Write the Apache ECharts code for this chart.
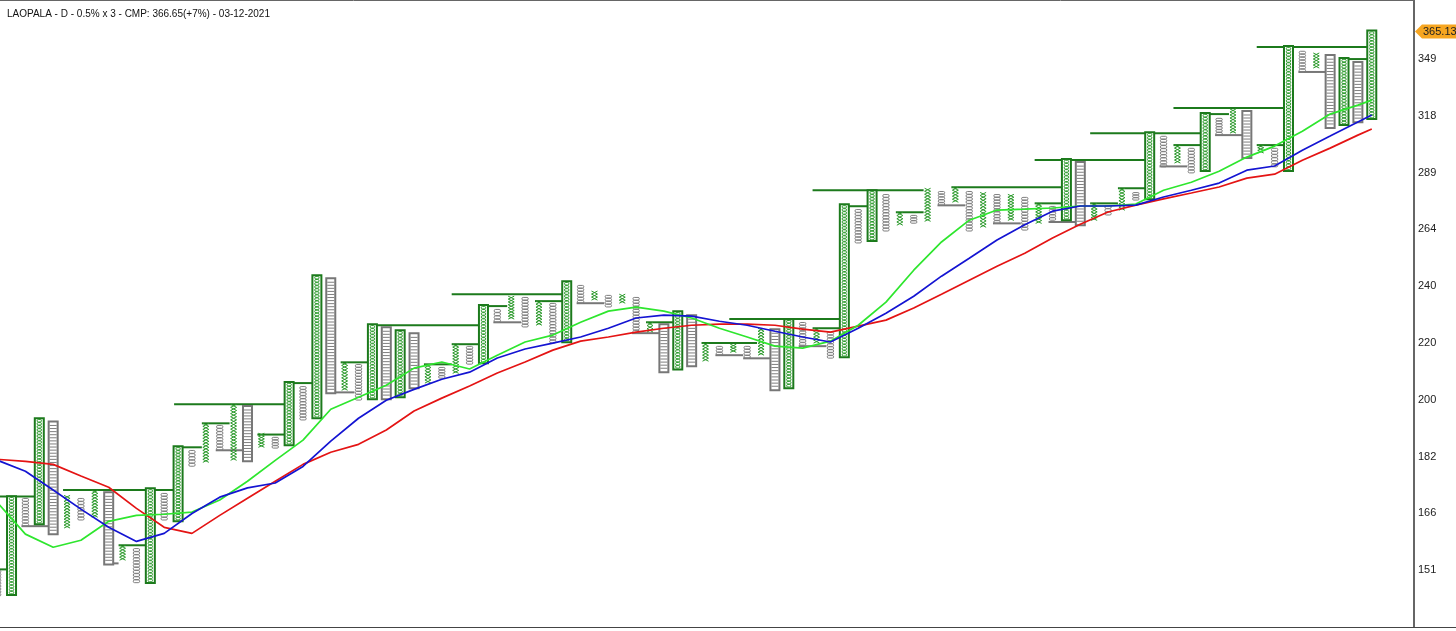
<!DOCTYPE html>
<html><head><meta charset="utf-8">
<script src="https://cdn.jsdelivr.net/npm/echarts@6/dist/echarts.min.js"></script>
<style>html,body{margin:0;padding:0;background:#fff}#c{width:1456px;height:631px}</style>
</head><body><div id="c"></div>
<script>
const titleText = 'LAOPALA - D - 0.5% x 3 - CMP: 366.65(+7%) - 03-12-2021';
const yTickLabels = ['151','166','182','200','220','240','264','289','318','349'];
const lastPrice = 365.13;
const boxPct = 0.5;

const colTypes = ['O','XB','O','XB','OB','X','O','X','OB','X', 'O','XB','O','XB','O','X','O','X','OB','X',
 'O','XB','O','XB','OB','X','O','XB','OB','XB', 'OB','X','O','X','O','XB','O','X','O','X',
 'O','XB','O','X','O','X','O','X','OB','XB', 'OB','X','O','X','O','X','OB','XB','O','X',
 'O','XB','O','XB','O','X','O','X','O','X', 'O','X','O','X','O','X','O','XB','OB','X',
 'O','X','O','XB','O','X','O','XB','O','X', 'OB','X','O','XB','O','X','OB','XB','OB','XB'];
const colLow = [144.7,145.2,162.3,163.1,160.4,161.8,163.9,164.7,152.7,153.5, 147.9,148.1,163.9,163.9,179.0,180.2,183.8,180.8,180.8,184.7,
 184.4,185.6,193.1,194.0,202.1,202.8,199.5,200.2,200.2,200.8, 203.8,205.2,206.8,208.5,211.6,212.3,226.7,227.9,224.9,225.6,
 219.1,219.8,233.9,235.1,232.4,233.9,222.7,223.1,209.2,210.2, 211.3,212.7,214.8,215.8,213.7,214.8,203.1,203.8,218.3,219.1,
 213.7,214.4,258.1,259.4,263.2,265.8,266.6,267.5,274.6,276.0, 263.2,264.9,266.6,267.9,263.6,266.6,267.9,268.4,266.2,267.9,
 270.2,272.4,276.9,277.8,292.4,294.3,289.5,291.0,308.1,309.1, 297.2,299.2,292.4,291.0,341.7,343.9,312.2,313.7,315.2,316.8];
const colHigh = [151.0,170.2,169.9,193.4,192.4,170.7,169.9,172.1,171.3,157.3, 156.5,172.4,171.3,184.7,183.8,192.1,191.5,198.2,197.3,189.0,
 187.8,205.2,204.1,244.5,243.3,212.3,211.6,225.6,224.5,223.4, 222.3,211.6,210.6,218.7,218.0,232.8,231.6,236.6,236.2,234.7,
 233.9,242.1,240.9,238.6,237.0,237.4,236.2,226.7,225.6,230.5, 229.0,219.1,218.0,218.7,218.0,224.5,223.8,227.5,226.7,224.5,
 223.1,274.6,272.8,281.0,279.6,271.5,270.2,282.4,281.0,282.9, 281.0,280.5,279.6,279.6,278.3,275.5,274.2,295.8,294.3,275.5,
 274.6,282.4,280.5,309.1,307.6,303.1,301.6,318.9,316.8,321.6, 320.0,303.1,301.6,355.9,353.6,352.5,350.7,349.0,346.8,365.1];

// [fromCol, toCol, price, kind]  G = buy line, R = sell line
const signalLines = [
 [-0.5,1,151.2,'G'],[-0.5,3,170.4,'G'],[2,4,162.3,'R'],[5,13,172.2,'G'],[8,9,152.7,'R'],[9,11,157.3,'G'],
 [13,15,184.7,'G'],[15,17,192.1,'G'],[16,18,183.8,'R'],[13,21,198.2,'G'],[19,21,188.6,'G'],[21,23,205.2,'G'],
 [24,26,202.1,'R'],[25,27,212.3,'G'],[27,35,225.6,'G'],[31,33,211.6,'G'],[33,35,218.7,'G'],[33,41,237.4,'G'],
 [35,37,232.8,'G'],[36,38,226.7,'R'],[39,41,234.7,'G'],[42,44,233.9,'R'],[46,48,222.7,'R'],[47,49,226.7,'G'],
 [51,55,219.1,'G'],[52,54,214.8,'R'],[54,56,213.7,'R'],[53,61,227.9,'G'],[59,61,224.5,'G'],[58,60,218.0,'R'],
 [59,67,281.5,'G'],[61,63,274.2,'G'],[65,67,271.5,'G'],[68,70,274.6,'R'],[69,77,282.9,'G'],[72,74,266.6,'R'],
 [75,77,275.5,'G'],[76,78,267.2,'R'],[79,81,275.5,'G'],[81,83,282.4,'G'],[75,83,295.8,'G'],[79,87,309.1,'G'],
 [85,87,303.1,'G'],[84,86,292.7,'R'],[87,89,318.9,'G'],[85,93,322.1,'G'],[88,90,308.1,'R'],[91,93,303.1,'G'],
 [91,99,355.9,'G'],[94,96,341.7,'R'],[97,99,349.0,'G']];

const maCols = [0,2,4,6,8,10,12,14,16,18,20,22,24,26,28,30,32,34,36,38,40,42,44,46,48,50,52,54,56,58,60,62,64,66,68,70,72,74,76,78,80,82,84,86,88,90,92,94,96,98,99];
const maSlow = [181.1,180.5,179.6,176.2,173.0,167.1,162.0,160.4,165.2,169.9, 174.7,179.6,183.2,185.6,190.0,196.0,200.2,204.2,208.6,212.4,
 216.6,219.8,221.3,223.1,224.5,225.6,226.0,226.0,225.6,224.2, 223.1,225.3,227.5,232.1,237.4,242.9,248.5,253.9,260.3,266.2,
 271.6,274.7,277.5,280.2,283.0,287.1,289.0,295.7,301.6,308.1,311.2];
const maMid = [180.8,177.6,172.2,166.9,162.0,158.3,160.4,165.7,170.2,172.8, 174.2,179.0,186.6,193.7,199.5,203.1,206.5,208.9,213.8,217.0,
 219.1,221.3,224.5,228.3,229.4,229.0,227.1,225.6,223.4,221.3, 219.5,224.5,230.1,236.6,244.5,251.8,259.4,266.0,272.0,274.3,
 274.3,274.7,278.4,281.5,284.8,290.9,292.9,300.6,307.6,314.8,318.4];
const maFast = [168.6,160.2,156.8,158.6,163.6,165.2,165.5,166.1,169.4,174.7, 180.8,186.9,196.6,200.5,204.5,210.3,212.4,210.0,214.8,219.5,
 222.0,226.7,230.9,232.4,230.9,228.3,224.5,221.3,218.0,217.3, 219.8,225.6,234.3,246.9,258.6,268.0,272.5,272.9,273.4,274.3,
 274.3,275.2,281.5,285.2,290.4,297.2,302.6,310.1,318.9,323.6,326.3];

// log-price transform: axis unit = one tick step
const P0 = +yTickLabels[0], P1 = +yTickLabels[yTickLabels.length - 1];
const STEP = Math.log(P1 / P0) / (yTickLabels.length - 1);
const T = p => Math.log(p / P0) / STEP;
const BOX_T = Math.log(1 + boxPct / 100) / STEP;
const typeCode = {X: 0, O: 1, XB: 2, OB: 3};

const GREEN_X = '#2b9a2b', GREEN_D = '#1c7a1c', GRAY = '#7f7f7f', GRAY_D = '#777777';

function renderColumn(params, api) {
  const i = api.value(0), lo = api.value(1), hi = api.value(2), ty = api.value(3);
  const top = api.coord([i, hi]), bot = api.coord([i, lo]);
  const xc = top[0], yT = top[1], yB = bot[1];
  const bh = api.size([0, BOX_T])[1];
  const n = Math.max(1, Math.round((yB - yT) / bh));
  const h = (yB - yT) / n;
  const ch = [];
  if (ty === 0) {
    const p1 = [], p2 = [];
    for (let k = 0; k <= n; k++) {
      const y = yT + k * h;
      p1.push([k % 2 ? xc + 3 : xc - 3, y]);
      p2.push([k % 2 ? xc - 3 : xc + 3, y]);
    }
    ch.push({type: 'polyline', shape: {points: p1}, style: {stroke: GREEN_X, lineWidth: 1, fill: null}});
    ch.push({type: 'polyline', shape: {points: p2}, style: {stroke: GREEN_X, lineWidth: 1, fill: null}});
  } else if (ty === 1) {
    for (let k = 0; k < n; k++) {
      ch.push({type: 'rect', shape: {x: xc - 3.2, y: yT + k * h + 0.2, width: 6.4, height: h - 0.4, r: h / 2},
        style: {stroke: GRAY, lineWidth: 1, fill: null}});
    }
  } else if (ty === 2) {
    ch.push({type: 'rect', shape: {x: xc - 4.5, y: yT - 1, width: 9, height: yB - yT + 2},
      style: {stroke: GREEN_D, lineWidth: 2, fill: '#fff'}});
    for (let k = 0; k < n; k++) {
      ch.push({type: 'rect', shape: {x: xc - 2.2, y: yT + k * h + 0.3, width: 4.4, height: h - 0.6, r: h / 2},
        style: {stroke: GREEN_X, lineWidth: 1, fill: null}});
    }
  } else {
    ch.push({type: 'rect', shape: {x: xc - 4.5, y: yT - 1, width: 9, height: yB - yT + 2},
      style: {stroke: GRAY_D, lineWidth: 2, fill: '#fff'}});
    for (let k = 1; k < n; k++) {
      ch.push({type: 'line', shape: {x1: xc - 3.5, y1: yT + k * h, x2: xc + 3.5, y2: yT + k * h},
        style: {stroke: GRAY, lineWidth: 1}});
    }
  }
  return {type: 'group', children: ch};
}

function renderSignal(params, api) {
  const a = api.coord([api.value(0), api.value(2)]);
  const b = api.coord([api.value(1), api.value(2)]);
  const g = api.value(3) === 0;
  return {type: 'line', shape: {x1: a[0] - 4, y1: a[1], x2: b[0] - 4, y2: b[1]},
    style: {stroke: g ? GREEN_D : GRAY_D, lineWidth: 2}};
}

const chart = echarts.init(document.getElementById('c'), null, {renderer: 'canvas'});
const gridW = 1414;
chart.setOption({
  animation: false,
  backgroundColor: '#fff',
  title: {text: titleText, left: 2, top: 4, textStyle: {fontSize: 10, fontWeight: 'normal', color: '#111', fontFamily: 'Liberation Sans'}},
  grid: {left: 0, right: 42, top: 0, bottom: 4, show: false},
  xAxis: {type: 'value', min: 2.35 / 13.88, max: (gridW + 2.35) / 13.88, show: false},
  yAxis: {type: 'value', position: 'right', min: -1, max: 10.04, interval: 1,
    axisLine: {show: true, lineStyle: {color: '#333', width: 1.5}}, axisTick: {show: false}, splitLine: {show: false},
    axisLabel: {margin: 4, fontSize: 11, color: '#222', fontFamily: 'Liberation Sans',
      formatter: v => { const k = Math.round(v); if (Math.abs(v - k) > 1e-6 || k < 0 || k >= yTickLabels.length) return ''; return yTickLabels[k]; }}},
  series: [
    {type: 'custom', name: 'signals', renderItem: renderSignal, clip: true, z: 1,
      encode: {x: [0, 1], y: 2},
      data: signalLines.map(s => [s[0], s[1], T(s[2]), s[3] === 'G' ? 0 : 1])},
    {type: 'custom', name: 'columns', renderItem: renderColumn, clip: true, z: 2,
      encode: {x: 0, y: [1, 2]},
      data: colTypes.map((t, i) => [i, T(colLow[i]), T(colHigh[i]), typeCode[t]])},
    {type: 'line', name: 'fast', z: 5, showSymbol: false, clip: true, lineStyle: {color: '#2ee62e', width: 1.7}, itemStyle: {color: '#2ee62e'},
      data: maCols.map((c, k) => [c, T(maFast[k])])},
    {type: 'line', name: 'mid', z: 6, showSymbol: false, clip: true, lineStyle: {color: '#1414d2', width: 1.7}, itemStyle: {color: '#1414d2'},
      data: maCols.map((c, k) => [c, T(maMid[k])])},
    {type: 'line', name: 'slow', z: 4, showSymbol: false, clip: true, lineStyle: {color: '#e41414', width: 1.7}, itemStyle: {color: '#e41414'},
      data: maCols.map((c, k) => [c, T(maSlow[k])])}
  ]
});

const ty = chart.convertToPixel({yAxisIndex: 0}, T(lastPrice));
const ax = gridW;
chart.setOption({graphic: [
  {type: 'polygon', z: 100, shape: {points: [[ax + 1, ty], [ax + 8, ty - 7], [1456, ty - 7], [1456, ty + 7], [ax + 8, ty + 7]]},
    style: {fill: '#f7a621'}},
  {type: 'text', z: 101, x: ax + 9, y: ty, style: {text: lastPrice.toFixed(2), fontSize: 11, fill: '#222', fontFamily: 'Liberation Sans', verticalAlign: 'middle'}},
  {type: 'line', z: 100, shape: {x1: 0, y1: 0.5, x2: ax, y2: 0.5}, style: {stroke: '#666', lineWidth: 1}},
  {type: 'line', z: 100, shape: {x1: 0, y1: 627.5, x2: 1456, y2: 627.5}, style: {stroke: '#444', lineWidth: 1}}
]});
</script></body></html>
